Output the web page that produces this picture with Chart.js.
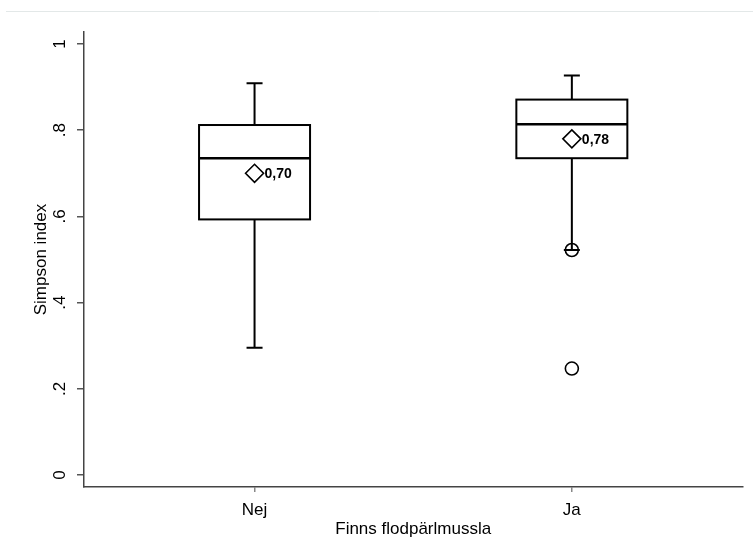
<!DOCTYPE html>
<html>
<head>
<meta charset="utf-8">
<script src="https://cdn.jsdelivr.net/npm/chart.js@4/dist/chart.umd.min.js"></script>
<style>
  html, body { margin: 0; padding: 0; background: #ffffff; }
  #wrap { width: 753px; height: 556px; }
</style>
</head>
<body>
<div id="wrap"><canvas id="chart" width="753" height="556"></canvas></div>
<script>
// Box-plot summaries of the Simpson index per group
const groups = ['Nej', 'Ja'];
const whiskerLow = [0.295, 0.522];
const q1 = [0.593, 0.735];
const median = [0.735, 0.814];
const q3 = [0.812, 0.871];
const whiskerHigh = [0.909, 0.927];
const means = [0.70, 0.78];
const outliers = [[], [0.522, 0.247]];
const yTickValues = [0, 0.2, 0.4, 0.6, 0.8, 1];
const yTickLabels = ['0', '.2', '.4', '.6', '.8', '1'];

const FONT = "'Liberation Sans', Arial, sans-serif";
const BOX_HALF = 55.5;   // px
const CAP_HALF = 8;      // px

const meanPoints = means.map((m, i) => ({ x: i + 1, y: m }));
const outlierPoints = [];
outliers.forEach((list, i) => list.forEach(v => outlierPoints.push({ x: i + 1, y: v })));

const fmt = v => v.toFixed(2).replace('.', ',');

const boxPlugin = {
  id: 'boxes',
  beforeDraw(chart) {
    const ctx = chart.ctx;
    ctx.save();
    ctx.strokeStyle = '#e3e8e8';
    ctx.lineWidth = 1;
    ctx.beginPath();
    ctx.moveTo(6, 11.5);
    ctx.lineTo(753, 11.5);
    ctx.stroke();
    ctx.restore();
  },
  beforeDatasetsDraw(chart) {
    const { ctx, scales: { x, y } } = chart;
    ctx.save();
    ctx.strokeStyle = '#000000';
    ctx.lineWidth = 2;
    ctx.lineCap = 'butt';
    groups.forEach((g, i) => {
      const cx = x.getPixelForValue(i + 1);
      const yLo = y.getPixelForValue(whiskerLow[i]);
      const yQ1 = y.getPixelForValue(q1[i]);
      const yMed = y.getPixelForValue(median[i]);
      const yQ3 = y.getPixelForValue(q3[i]);
      const yHi = y.getPixelForValue(whiskerHigh[i]);
      // whiskers
      ctx.beginPath();
      ctx.moveTo(cx, yQ3); ctx.lineTo(cx, yHi);
      ctx.moveTo(cx - CAP_HALF, yHi); ctx.lineTo(cx + CAP_HALF, yHi);
      ctx.moveTo(cx, yQ1); ctx.lineTo(cx, yLo);
      ctx.moveTo(cx - CAP_HALF, yLo); ctx.lineTo(cx + CAP_HALF, yLo);
      ctx.stroke();
      // box
      ctx.fillStyle = '#ffffff';
      ctx.fillRect(cx - BOX_HALF, yQ3, 2 * BOX_HALF, yQ1 - yQ3);
      ctx.strokeRect(cx - BOX_HALF, yQ3, 2 * BOX_HALF, yQ1 - yQ3);
      // median
      ctx.beginPath();
      ctx.lineWidth = 2.5;
      ctx.moveTo(cx - BOX_HALF, yMed); ctx.lineTo(cx + BOX_HALF, yMed);
      ctx.stroke();
      ctx.lineWidth = 2;
    });
    ctx.restore();
  },
  afterDatasetsDraw(chart) {
    const { ctx, scales: { x, y } } = chart;
    ctx.save();
    // mean labels
    ctx.fillStyle = '#000000';
    ctx.font = 'bold 14px ' + FONT;
    ctx.textAlign = 'left';
    ctx.textBaseline = 'middle';
    means.forEach((m, i) => {
      ctx.fillText(fmt(m), x.getPixelForValue(i + 1) + 10, y.getPixelForValue(m) + 1);
    });
    // rotated y tick labels
    ctx.font = '17px ' + FONT;
    ctx.textAlign = 'center';
    ctx.textBaseline = 'middle';
    yTickValues.forEach((v, i) => {
      ctx.save();
      ctx.translate(60.5, y.getPixelForValue(v));
      ctx.rotate(-Math.PI / 2);
      ctx.fillText(yTickLabels[i], 0, 0);
      ctx.restore();
    });
    ctx.restore();
  }
};

new Chart(document.getElementById('chart'), {
  type: 'scatter',
  data: {
    datasets: [
      {
        label: 'Medel',
        data: meanPoints,
        pointStyle: 'rectRot',
        pointRadius: 9,
        pointHoverRadius: 9,
        pointBackgroundColor: '#ffffff',
        pointBorderColor: '#000000',
        pointBorderWidth: 1.6
      },
      {
        label: 'Extremvärden',
        data: outlierPoints,
        pointStyle: 'circle',
        pointRadius: 6.5,
        pointHoverRadius: 6.5,
        pointBackgroundColor: 'rgba(0,0,0,0)',
        pointBorderColor: '#000000',
        pointBorderWidth: 1.6
      }
    ]
  },
  plugins: [boxPlugin],
  options: {
    responsive: false,
    animation: false,
    events: [],
    layout: { padding: { top: 32, right: 7, left: 0, bottom: 0 } },
    plugins: { legend: { display: false }, tooltip: { enabled: false } },
    scales: {
      x: {
        type: 'linear',
        min: 0.4625,
        max: 2.5375,
        afterBuildTicks: s => { s.ticks = groups.map((g, i) => ({ value: i + 1 })); },
        afterFit: s => { s.height = 69; s.paddingLeft = 0; s.paddingRight = 0; },
        ticks: {
          callback: v => groups[v - 1],
          color: '#000000',
          font: { family: FONT, size: 17 },
          padding: 8,
          maxRotation: 0,
          autoSkip: false
        },
        grid: { display: true, drawOnChartArea: false, drawTicks: true, tickLength: 5, color: '#888888', lineWidth: 1.5 },
        border: { display: true, color: '#444444', width: 1.5 },
        title: {
          display: true,
          text: 'Finns flodpärlmussla',
          color: '#000000',
          font: { family: FONT, size: 17 },
          padding: { top: 0, bottom: 16 }
        }
      },
      y: {
        type: 'linear',
        min: -0.0278,
        max: 1.0278,
        afterBuildTicks: s => { s.ticks = yTickValues.map(v => ({ value: v })); },
        afterFit: s => { s.width = 84; s.paddingTop = 0; s.paddingBottom = 0; },
        ticks: { display: false },
        grid: { display: true, drawOnChartArea: false, drawTicks: true, tickLength: 7, color: '#555555', lineWidth: 1.5 },
        border: { display: true, color: '#444444', width: 1.5 },
        title: {
          display: true,
          text: 'Simpson index',
          color: '#000000',
          font: { family: FONT, size: 17 },
          padding: { top: 31.5, bottom: 0 }
        }
      }
    }
  }
});
</script>
</body>
</html>
